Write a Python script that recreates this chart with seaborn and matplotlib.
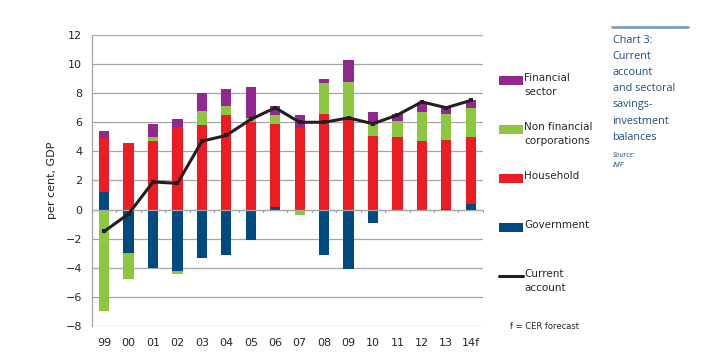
import matplotlib
matplotlib.use("Agg")
import matplotlib.pyplot as plt
from matplotlib.patches import Rectangle
from matplotlib.lines import Line2D
import numpy as np
import pandas as pd
import seaborn as sns

# data (per cent of GDP)
years = ['99', '00', '01', '02', '03', '04', '05', '06', '07', '08', '09', '10', '11', '12', '13', '14f']
government = [1.2, -3.0, -4.0, -4.2, -3.3, -3.1, -2.1, 0.15, 0.0, -3.1, -4.1, -0.9, 0.0, 0.0, 0.05, 0.4]
household = [3.7, 4.6, 4.7, 5.7, 5.8, 6.5, 6.0, 5.75, 5.6, 6.6, 6.2, 5.05, 5.0, 4.7, 4.75, 4.6]
non_financial = [-7.0, -1.8, 0.3, -0.2, 1.0, 0.6, 0.3, 0.6, -0.4, 2.1, 2.6, 0.85, 1.1, 2.0, 1.8, 2.0]
financial = [0.5, 0.0, 0.9, 0.5, 1.2, 1.2, 2.1, 0.6, 0.9, 0.3, 1.5, 0.8, 0.5, 0.7, 0.4, 0.5]
current_account = [-1.5, -0.3, 1.9, 1.8, 4.7, 5.1, 6.2, 7.0, 6.0, 6.0, 6.3, 5.9, 6.5, 7.4, 7.0, 7.5]

series = ['Government', 'Household', 'Non financial\ncorporations', 'Financial\nsector']
colors = ['#004a80', '#ed1c24', '#8dc63f', '#92278f']
values = np.array([government, household, non_financial, financial])

# stack positives and negatives separately (Excel style)
pos = np.cumsum(np.clip(values, 0, None), axis=0)
neg = np.cumsum(np.clip(values, None, 0), axis=0)

sns.set_style("white")
plt.rcParams['font.family'] = ['DejaVu Sans']

fig = plt.figure(figsize=(7.24, 3.57), dpi=100)
ax = fig.add_axes([0.127, 0.087, 0.54, 0.815])

for y in range(-8, 13, 2):
    ax.axhline(y, color='#a6a6a6', lw=0.9, zorder=0)

# draw the tallest cumulative first so smaller ones sit on top
for i in range(len(series) - 1, -1, -1):
    for stack in (pos, neg):
        df = pd.DataFrame({'year': years, 'v': stack[i]})
        sns.barplot(data=df, x='year', y='v', color=colors[i], width=0.42,
                    saturation=1, ax=ax, zorder=2, linewidth=0)

sns.lineplot(x=np.arange(len(years)), y=current_account, ax=ax, color='#231f20',
             lw=2.2, marker='s', markersize=3, markeredgewidth=0, zorder=4)

# category axis at zero with ticks between categories
ax.axhline(0, color='#a6a6a6', lw=0.9, zorder=3)
for b in np.arange(len(years) + 1) - 0.5:
    ax.plot([b, b], [0, -0.17], color='#a6a6a6', lw=0.9, zorder=3, clip_on=False)

ax.set_xlim(-0.5, len(years) - 0.5)
ax.set_ylim(-8, 12)
ax.set_yticks(range(-8, 13, 2))
ax.set_xlabel('')
ax.set_ylabel('per cent, GDP', fontsize=8, labelpad=6)
ax.tick_params(axis='y', labelsize=8, length=3, color='#a6a6a6', pad=4)
ax.tick_params(axis='x', labelsize=8, length=0, pad=9)
for s in ['top', 'right', 'bottom']:
    ax.spines[s].set_visible(False)
ax.spines['left'].set_color('#a6a6a6')
ax.spines['left'].set_linewidth(0.9)

# legend on the right, patch next to first text line
leg_y = [0.775, 0.638, 0.50, 0.363, 0.226]
leg_labels = series[::-1] + ['Current\naccount']
leg_colors = colors[::-1] + ['#231f20']
for yy, lab, col in zip(leg_y, leg_labels, leg_colors):
    if lab.startswith('Current'):
        fig.add_artist(Line2D([0.689, 0.722], [yy, yy], color=col, lw=2.2))
    else:
        fig.add_artist(Rectangle((0.689, yy - 0.012), 0.033, 0.024, color=col, lw=0))
    fig.text(0.724, yy + 0.021, lab, fontsize=7.5, va='top', ha='left', linespacing=1.5)

fig.text(0.705, 0.085, 'f = CER forecast', fontsize=6, ha='left', va='center')

# side note
fig.add_artist(Line2D([0.845, 0.95], [0.923, 0.923], color='#7f9dbd', lw=2))
fig.text(0.846, 0.902, 'Chart 3:\nCurrent\naccount\nand sectoral\nsavings-\ninvestment\nbalances',
         fontsize=7.8, color='#1d4f80', ha='left', va='top', linespacing=1.64,
         family=['Open Sans', 'DejaVu Sans'])
fig.text(0.846, 0.575, 'Source:\nIMF', fontsize=5, color='#1d4f80', ha='left', va='top',
         style='italic', linespacing=1.6, family=['Open Sans', 'DejaVu Sans'])

fig.savefig('out.png', dpi=100)
